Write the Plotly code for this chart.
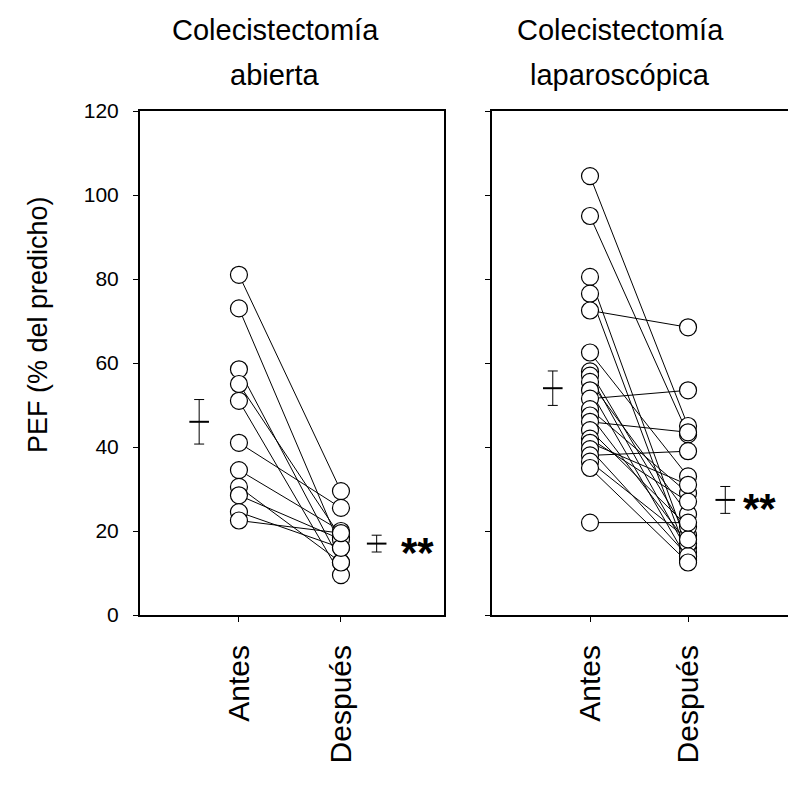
import plotly.graph_objects as go

# ---------------- data ----------------
categories = ["Antes", "Después"]
y_ticks = [0, 20, 40, 60, 80, 100, 120]

abierta_antes = [81, 73, 58.5, 55, 51, 41, 34.5, 30.5, 28.5, 24.5, 22.5]
abierta_despues = [29.5, 16, 12.5, 18.5, 9.5, 25.5, 20, 12.5, 18, 16, 19.5]

lap_antes = [104.5, 95, 80.5, 76.5, 72.5, 62.5, 58, 57, 55.5, 53.5, 51.5,
             49, 47.5, 46, 44, 42, 41, 39.5, 38, 36.5, 35, 22]
lap_despues = [45, 43, 16, 14, 68.5, 33, 19, 15, 24, 13, 53.5,
               29, 17, 43.5, 21, 27, 31, 14, 39, 18, 12.5, 22]

# mean and SEM bars
abierta_mean = [46, 17]
abierta_sem = [5.3, 2.0]
lap_mean = [54, 27.4]
lap_sem = [4.1, 3.2]

titles = [["Colecistectomía", "abierta"], ["Colecistectomía", "laparoscópica"]]
y_title = "PEF (% del predicho)"
signif = "**"

# ---------------- figure ----------------
W, H = 788, 796
TOP, BOT = 111, 615
FONT = "Liberation Sans, Arial, sans-serif"

fig = go.Figure()

def add_panel(antes, despues, mean, sem, xa, ya, xmean, xstar):
    lx, ly = [], []
    for a, d in zip(antes, despues):
        lx += [1, 2, None]
        ly += [a, d, None]
    fig.add_trace(go.Scatter(x=lx, y=ly, mode="lines", xaxis=xa, yaxis=ya,
                             line=dict(color="black", width=1), hoverinfo="skip",
                             showlegend=False))
    for xv, vals in ((1, antes), (2, despues)):
        fig.add_trace(go.Scatter(x=[xv] * len(vals), y=vals, mode="markers",
                                 xaxis=xa, yaxis=ya,
                                 marker=dict(symbol="circle", size=17, color="white",
                                             line=dict(color="black", width=1.2)),
                                 showlegend=False))
    fig.add_trace(go.Scatter(x=xmean, y=mean, mode="markers", xaxis=xa, yaxis=ya,
                             marker=dict(symbol="line-ew", size=14,
                                         line=dict(color="black", width=2)),
                             error_y=dict(type="data", array=sem, visible=True,
                                          color="black", thickness=1, width=5),
                             showlegend=False))
    fig.add_annotation(x=xstar, y=mean[1], xref=xa, yref=ya, text="<b>" + signif + "</b>",
                       showarrow=False, font=dict(family=FONT, size=42, color="black"),
                       yshift=-9)

add_panel(abierta_antes, abierta_despues, abierta_mean, abierta_sem, "x", "y",
          [0.61, 2.35], 2.75)
add_panel(lap_antes, lap_despues, lap_mean, lap_sem, "x2", "y2",
          [0.62, 2.38], 2.73)

axis_common = dict(showgrid=False, zeroline=False, showline=True, linecolor="black",
                   linewidth=2, ticks="outside", ticklen=5, tickcolor="black", tickwidth=1)

fig.update_layout(
    width=W, height=H,
    margin=dict(l=0, r=0, t=TOP, b=H - BOT),
    paper_bgcolor="white", plot_bgcolor="white",
    showlegend=False,
    xaxis=dict(domain=[140 / W, 444 / W], range=[0.03, 3.01], mirror=True,
               tickvals=[1, 2], ticktext=categories, tickangle=-90,
               tickfont=dict(family=FONT, size=30, color="black"),
               ticklabelstandoff=11, **axis_common),
    xaxis2=dict(domain=[492 / W, 1.0], range=[0, 3.02], mirror=True,
                tickvals=[1, 2], ticktext=categories, tickangle=-90,
                tickfont=dict(family=FONT, size=30, color="black"),
                ticklabelstandoff=11, **axis_common),
    yaxis=dict(domain=[0, 1], range=[0, 120], mirror=True, tickvals=y_ticks,
               tickfont=dict(family=FONT, size=21, color="black"),
               ticklabelstandoff=10, **axis_common),
    yaxis2=dict(domain=[0, 1], range=[0, 120], anchor="x2", mirror=False,
                tickvals=y_ticks, showticklabels=False, **axis_common),
)

# titles
title_x = [275 / W, 620 / W]
line_y = [30, 75]
for tx, lines in zip(title_x, titles):
    for ly_px, txt in zip(line_y, lines):
        fig.add_annotation(x=tx, y=(BOT - ly_px) / (BOT - TOP), xref="paper", yref="paper",
                           text=txt, showarrow=False, xanchor="center", yanchor="middle",
                           font=dict(family=FONT, size=29, color="black"))

fig.add_annotation(x=38 / W, y=(BOT - 325) / (BOT - TOP), xref="paper", yref="paper",
                   text=y_title, textangle=-90, showarrow=False,
                   xanchor="center", yanchor="middle",
                   font=dict(family=FONT, size=27, color="black"))

fig.write_html("out.html",
               config={"displayModeBar": False, "staticPlot": True},
               post_script="document.body.style.margin='0';"
                           "document.body.style.overflow='hidden';")
